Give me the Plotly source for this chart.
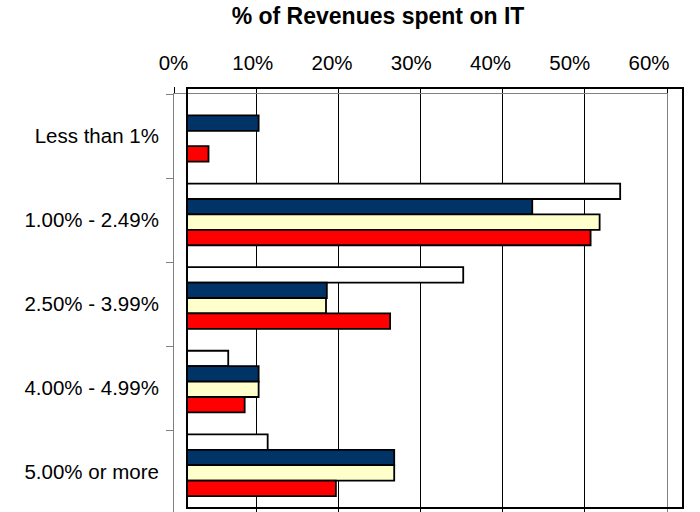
import plotly.graph_objects as go

# Revenue share bands (top to bottom)
categories = ["Less than 1%", "1.00% - 2.49%", "2.50% - 3.99%", "4.00% - 4.99%", "5.00% or more"]

# Share of respondents per band, in percent, one list per series
series_white = [None, 54.3, 35.2, 6.6, 11.4]
series_navy = [10.3, 43.6, 18.6, 10.3, 26.8]
series_yellow = [None, 51.8, 18.5, 10.3, 26.8]
series_red = [4.2, 50.7, 26.3, 8.6, 19.7]

tick_values = [0, 10, 20, 30, 40, 50, 60]
tick_labels = ["0%", "10%", "20%", "30%", "40%", "50%", "60%"]

W, H = 700, 512
FONT = "Liberation Sans, Arial, sans-serif"


def fx(p):
    return p / W


def fy(p):
    return 1 - p / H


# value scale shared by the frame and the bars: 0% at x=174, 60% at x=667
X0, X60 = 174.0, 667.0
PX_PER_PCT = (X60 - X0) / 60.0
BOX_L, BOX_R, BOX_T, BOX_B = 188.0, 682.0, 89.0, 507.0

fig = go.Figure()

# empty traces so the frame subplot and the label axis exist
fig.add_trace(go.Scatter(x=[], y=[], xaxis="x", yaxis="y", showlegend=False, hoverinfo="skip"))
fig.add_trace(go.Scatter(x=[], y=[], xaxis="x3", yaxis="y", showlegend=False, hoverinfo="skip"))

for name, vals, color in [
    ("Series 1", series_white, "#FFFFFF"),
    ("Series 2", series_navy, "#003366"),
    ("Series 3", series_yellow, "#FFFFCC"),
    ("Series 4", series_red, "#FF0000"),
]:
    fig.add_trace(go.Bar(
        y=categories, x=vals, orientation="h", name=name,
        xaxis="x2", yaxis="y2",
        marker=dict(color=color, line=dict(color="#000000", width=1.8)),
        showlegend=False,
    ))

fig.update_layout(
    template="none",
    width=W, height=H, autosize=False,
    margin=dict(l=0, r=0, t=0, b=0, pad=0),
    paper_bgcolor="#FFFFFF", plot_bgcolor="rgba(0,0,0,0)",
    font=dict(family=FONT, size=20.5, color="#000000"),
    barmode="group", bargap=0.262, bargroupgap=0,
    title=dict(
        text="<b>% of Revenues spent on IT</b>",
        font=dict(family=FONT, size=23, color="#000000"),
        x=fx(378), xanchor="center", xref="paper",
        y=fy(16), yanchor="middle", yref="container",
    ),
    # outer frame: gray axis lines, black gridlines, category labels
    xaxis=dict(
        domain=[fx(X0), fx(X60)], range=[0, 60], side="top", anchor="y",
        showline=True, linecolor="#808080", linewidth=1,
        ticks="outside", ticklen=6, tickcolor="#000000", tickwidth=1,
        tickmode="array", tickvals=tick_values, showticklabels=False,
        showgrid=True, gridcolor="#000000", gridwidth=1, zeroline=False,
        fixedrange=True, automargin=False,
    ),
    yaxis=dict(
        domain=[0, fy(94)], type="category",
        categoryorder="array", categoryarray=categories,
        range=[-0.5 + (H - 94) / 84.0, -0.5], anchor="x",
        showline=True, mirror=True, linecolor="#808080", linewidth=1,
        ticks="outside", ticklen=7, tickcolor="#808080", tickson="boundaries",
        ticklabelstandoff=10,
        showgrid=False, zeroline=False, fixedrange=True, automargin=False,
        tickfont=dict(family=FONT, size=20.5, color="#000000"),
    ),
    # bar area with its black border
    xaxis2=dict(
        domain=[fx(BOX_L), fx(BOX_R)],
        range=[(BOX_L - X0) / PX_PER_PCT, (BOX_R - X0) / PX_PER_PCT],
        anchor="y2", showline=True, mirror=True, linecolor="#000000", linewidth=2,
        ticks="", showticklabels=False, showgrid=False, zeroline=False,
        fixedrange=True, automargin=False,
    ),
    yaxis2=dict(
        domain=[fy(BOX_B), fy(BOX_T)], type="category",
        categoryorder="array", categoryarray=categories,
        range=[4.5, -0.5], anchor="x2",
        showline=True, mirror=True, linecolor="#000000", linewidth=2,
        ticks="", showticklabels=False, showgrid=False, zeroline=False,
        fixedrange=True, automargin=False,
    ),
    # top percentage labels
    xaxis3=dict(
        domain=[fx(173.5), fx(649)], range=[0, 60], side="top",
        anchor="free", position=fy(74),
        tickmode="array", tickvals=tick_values, ticktext=tick_labels,
        ticks="", showline=False, showgrid=False, zeroline=False,
        fixedrange=True, automargin=False,
        tickfont=dict(family=FONT, size=20.5, color="#000000"),
    ),
)

fig.write_html("out.html")
